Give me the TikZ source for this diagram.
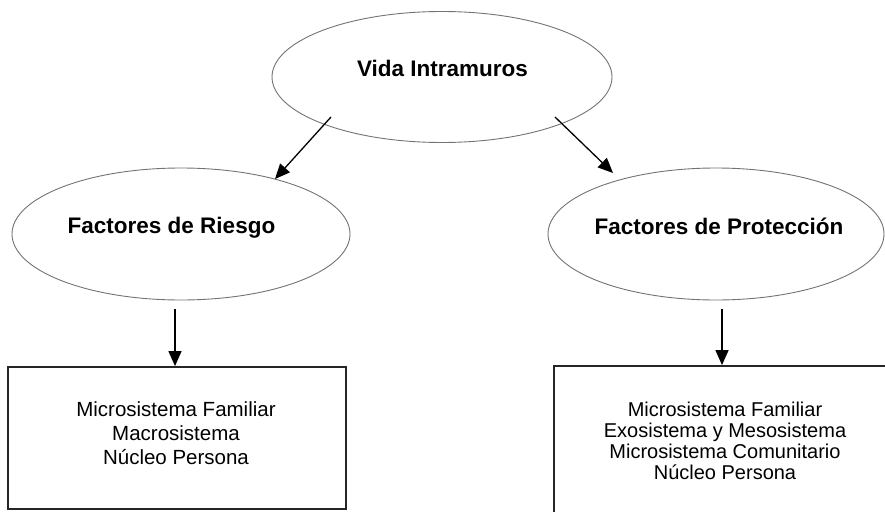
\documentclass[tikz,border=0pt]{standalone}
\usepackage{fontspec}
\setmainfont{Liberation Sans}
\usetikzlibrary{shapes.geometric,arrows.meta}
\begin{document}
\begin{tikzpicture}[x=1pt,y=-1pt,
  oval/.style={draw=black!55,line width=0.9pt,ellipse,inner sep=0pt},
  title/.style={anchor=base,inner sep=0pt,font=\bfseries\fontsize{22.5}{27}\selectfont},
  listbox/.style={draw=black!85,line width=1.8pt,rectangle,inner sep=0pt},
  listtext/.style={align=center,inner sep=0pt},
  conn/.style={line width=1.3pt,-{Triangle[length=15pt,width=13pt]}}]
\useasboundingbox (0,0) rectangle (885,511);
\clip (0,0) rectangle (885,511);
% ellipses
\node[oval,minimum width=340pt,minimum height=131pt] (top) at (442,77) {};
\node[oval,minimum width=338pt,minimum height=132pt] (risk) at (181,234) {};
\node[oval,minimum width=336pt,minimum height=132pt] (prot) at (716,234) {};
% titles
\node[title] (toplbl) at (442.5,77) {Vida Intramuros};
\node[title] (risklbl) at (171.5,233) {Factores de Riesgo};
\node[title] (protlbl) at (719,234) {Factores de Protección};
% boxes
\node[listbox,minimum width=338pt,minimum height=142pt] (riskbox) at (177,438) {};
\node[listbox,minimum width=346pt,minimum height=160pt] (protbox) at (727,446) {};
\node[listtext,font=\fontsize{20.5}{24}\selectfont] (risktxt) at (176,433)
  {Microsistema Familiar\\Macrosistema\\Núcleo Persona};
\node[listtext,font=\fontsize{20}{21}\selectfont] (prottxt) at (725,440.5)
  {Microsistema Familiar\\Exosistema y Mesosistema\\Microsistema Comunitario\\Núcleo Persona};
% connectors
\coordinate (a1s) at ([xshift=-111pt,yshift=-40pt]top.center);
\coordinate (a1e) at ([xshift=94pt,yshift=55pt]risk.center);
\coordinate (a2s) at ([xshift=113pt,yshift=-40pt]top.center);
\coordinate (a2e) at ([xshift=-103pt,yshift=61pt]prot.center);
\draw[conn] (a1s) -- (a1e);
\draw[conn] (a2s) -- (a2e);
\coordinate (b1s) at ([xshift=-6pt,yshift=-9pt]risk.south);
\coordinate (b2s) at ([xshift=6pt,yshift=-9pt]prot.south);
\draw[conn] (b1s) -- (b1s |- riskbox.north);
\draw[conn] (b2s) -- (b2s |- protbox.north);
\end{tikzpicture}
\end{document}
